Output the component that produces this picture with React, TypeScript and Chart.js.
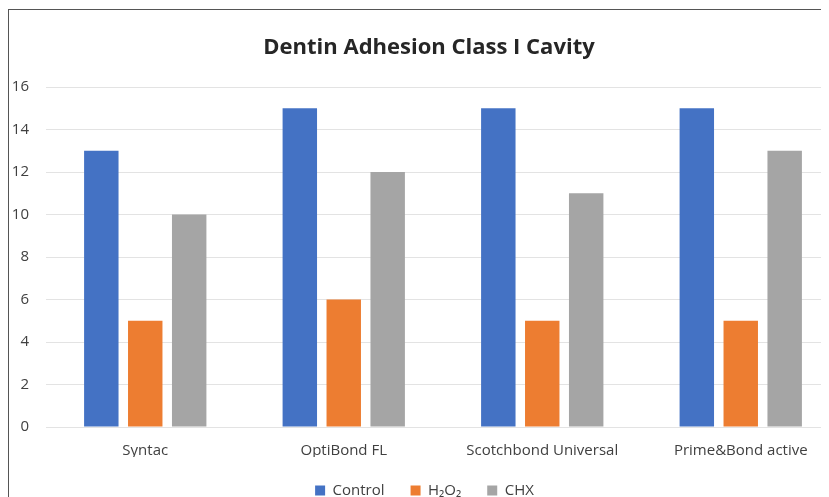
import React, { useEffect, useRef } from "react";
import { Chart, registerables } from "chart.js";

Chart.register(...registerables);

const categories = ["Syntac", "OptiBond FL", "Scotchbond Universal", "Prime&Bond active"];
const controlValues = [13, 15, 15, 15];
const h2o2Values = [5, 6, 5, 5];
const chxValues = [10, 12, 11, 13];
const seriesNames = ["Control", "H₂O₂", "CHX"];
const yTicks = [0, 2, 4, 6, 8, 10, 12, 14, 16];
const chartTitle = "Dentin Adhesion Class I Cavity";

const FONT = "'Open Sans', 'Noto Sans', sans-serif";

const titlePlugin = {
  id: "centeredTitle",
  afterDraw(chart: any) {
    const ctx = chart.ctx;
    ctx.save();
    ctx.font = `bold 22px ${FONT}`;
    ctx.fillStyle = "#262626";
    ctx.textAlign = "center";
    ctx.textBaseline = "middle";
    ctx.fillText(chartTitle, 420, 38);
    ctx.restore();
  },
};

export default function App() {
  const ref = useRef<HTMLCanvasElement | null>(null);

  useEffect(() => {
    if (!ref.current) return;
    const chart = new Chart(ref.current, {
      type: "bar",
      data: {
        labels: categories,
        datasets: [
          { label: seriesNames[0], data: controlValues, backgroundColor: "#4472C4" },
          { label: seriesNames[1], data: h2o2Values, backgroundColor: "#ED7D31" },
          { label: seriesNames[2], data: chxValues, backgroundColor: "#A5A5A5" },
        ],
      },
      plugins: [titlePlugin],
      options: {
        responsive: false,
        animation: false,
        datasets: { bar: { categoryPercentage: 0.664, barPercentage: 0.784 } },
        layout: { padding: { left: 0, right: 12, top: 77, bottom: 0 } },
        plugins: {
          title: { display: false },
          legend: {
            position: "bottom",
            labels: {
              color: "#404040",
              font: { family: FONT, size: 15 },
              boxWidth: 10,
              boxHeight: 10,
              padding: 26,
            },
          },
          tooltip: { enabled: false },
        },
        scales: {
          x: {
            afterFit: (s: any) => {
              s.height = 30;
            },
            grid: { display: false, drawTicks: false },
            border: { display: false },
            ticks: { color: "#404040", font: { family: FONT, size: 15 }, padding: 15 },
          },
          y: {
            min: 0,
            max: 16,
            afterBuildTicks: (s: any) => {
              s.ticks = yTicks.map((v) => ({ value: v }));
            },
            afterFit: (s: any) => {
              s.width = 37;
            },
            grid: { color: "#E3E3E3", drawTicks: false },
            border: { display: false },
            ticks: { color: "#404040", font: { family: FONT, size: 15 }, padding: 17 },
          },
        },
      },
    });
    return () => chart.destroy();
  }, []);

  return (
    <div style={{ width: 821, height: 489, overflow: "hidden" }}>
      <div
        style={{
          width: 845,
          height: 500,
          marginTop: 1,
          border: "1px solid #555",
          boxSizing: "border-box",
          background: "#fff",
        }}
      >
        <canvas ref={ref} width={843} height={498} style={{ display: "block" }} />
      </div>
    </div>
  );
}
